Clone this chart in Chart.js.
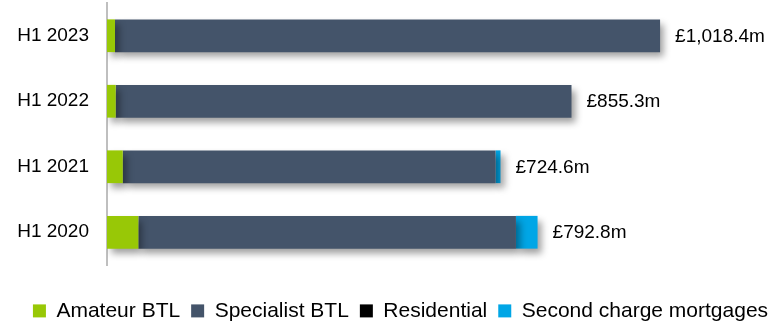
<!DOCTYPE html>
<html>
<head>
<meta charset="utf-8">
<script src="https://cdn.jsdelivr.net/npm/chart.js@4"></script>
<style>
  html, body { margin: 0; padding: 0; background: #fff; }
  #wrap { width: 775px; height: 322px; }
</style>
</head>
<body>
<div id="wrap"><canvas id="lendingChart"></canvas></div>
<script>
// lending by half-year, £m
const periods = ['H1 2023', 'H1 2022', 'H1 2021', 'H1 2020'];
const amateurBtl = [14.7, 16.0, 29.0, 57.7];
const specialistBtl = [1003.7, 839.3, 686.4, 695.3];
const residential = [0, 0, 0, 0];
const secondCharge = [0, 0, 9.2, 39.8];

const FONT = '"Liberation Sans", Arial, sans-serif';

// soft drop shadow under the bars
const barShadow = {
    id: 'barShadow',
    beforeDatasetsDraw(chart) {
        const ctx = chart.ctx;
        ctx.save();
        ctx.shadowColor = 'rgba(0, 0, 0, 0.38)';
        ctx.shadowBlur = 7;
        ctx.shadowOffsetX = 4;
        ctx.shadowOffsetY = 5;
    },
    afterDatasetsDraw(chart) {
        chart.ctx.restore();
    }
};

// keep the legend box to the space under the plot, nudged a little right
const legendBox = {
    id: 'legendBox',
    beforeInit(chart) {
        const legend = chart.legend;
        const fit = legend.fit;
        legend.fit = function () {
            fit.call(legend);
            legend.height = 57;
        };
    },
    afterLayout(chart) {
        chart.legend.left += 13;
        chart.legend.right += 13;
    }
};

// total at the end of each stacked bar
const totalLabels = {
    id: 'totalLabels',
    afterDraw(chart) {
        const ctx = chart.ctx;
        const xScale = chart.scales.x;
        const yScale = chart.scales.y;
        ctx.save();
        ctx.font = '19px ' + FONT;
        ctx.fillStyle = '#000';
        ctx.textAlign = 'left';
        ctx.textBaseline = 'middle';
        periods.forEach((p, i) => {
            const total = amateurBtl[i] + specialistBtl[i] + residential[i] + secondCharge[i];
            const text = '£' + total.toLocaleString('en-GB', { minimumFractionDigits: 1, maximumFractionDigits: 1 }) + 'm';
            ctx.fillText(text, xScale.getPixelForValue(total) + 15, yScale.getPixelForValue(i) + 1);
        });
        ctx.restore();
    }
};

new Chart(document.getElementById('lendingChart').getContext('2d'), {
    type: 'bar',
    data: {
        labels: periods,
        datasets: [
            { label: 'Amateur BTL', data: amateurBtl, backgroundColor: '#98C806' },
            { label: 'Specialist BTL', data: specialistBtl, backgroundColor: '#44546A' },
            { label: 'Residential', data: residential, backgroundColor: '#000000' },
            { label: 'Second charge mortgages', data: secondCharge, backgroundColor: '#00A6E6' }
        ]
    },
    options: {
        indexAxis: 'y',
        responsive: true,
        maintainAspectRatio: false,
        animation: false,
        datasets: {
            bar: { barPercentage: 0.5, categoryPercentage: 1, borderWidth: 0 }
        },
        layout: { padding: { left: 0, right: 0, top: 3, bottom: 0 } },
        scales: {
            x: {
                stacked: true,
                display: false,
                min: 0,
                max: 1230
            },
            y: {
                stacked: true,
                afterFit(scale) {
                    scale.width = 107;
                    scale.paddingTop = 0;
                    scale.paddingBottom = 0;
                },
                grid: { display: false, drawTicks: false },
                border: { display: true, color: '#BFBFBF', width: 2 },
                ticks: {
                    padding: 18,
                    color: '#000',
                    font: { family: FONT, size: 19 }
                }
            }
        },
        plugins: {
            tooltip: { enabled: false },
            legend: {
                position: 'bottom',
                title: { display: true, text: ' ', padding: 5, font: { size: 12 } },
                labels: {
                    boxWidth: 13,
                    boxHeight: 13,
                    padding: 11,
                    color: '#000',
                    font: { family: FONT, size: 21 }
                }
            }
        }
    },
    plugins: [barShadow, legendBox, totalLabels]
});
</script>
</body>
</html>
